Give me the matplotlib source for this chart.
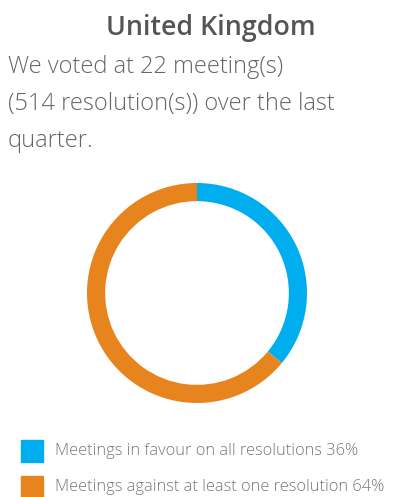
import matplotlib.pyplot as plt
from matplotlib.patches import Rectangle

title = "United Kingdom"
body_lines = ["We voted at 22 meeting(s)", "(514 resolution(s)) over the last", "quarter."]
labels = ["Meetings in favour on all resolutions", "Meetings against at least one resolution"]
values = [36, 64]
colors = ["#00aeef", "#e8841e"]

W, H = 413, 497
fig = plt.figure(figsize=(W / 100, H / 100), dpi=100)
plt.rcParams['font.family'] = ['Open Sans', 'DejaVu Sans']

fig.text(211 / W, 1 - 28 / H, title, ha="center", va="center",
         fontsize=19.3, fontweight="semibold", color="#555555")
for i, line in enumerate(body_lines):
    fig.text(8 / W, 1 - (73 + 37 * i) / H, line, ha="left", va="baseline",
             fontsize=17, fontweight="light", color="#666666")

# donut
ax = fig.add_axes([(197 - 110) / W, 1 - (293 + 110) / H, 220 / W, 220 / H])
ax.pie(values, colors=colors, startangle=90, counterclock=False,
       wedgeprops=dict(width=0.165, linewidth=0))
ax.set_xlim(-1, 1)
ax.set_ylim(-1, 1)
ax.set_aspect("equal")
ax.axis("off")

# legend
for i, (lab, val, col) in enumerate(zip(labels, values, colors)):
    top = 440 + 36 * i
    fig.patches.append(Rectangle((21 / W, 1 - (top + 22) / H), 22 / W, 22 / H,
                                 transform=fig.transFigure, color=col))
    fig.text(55 / W, 1 - (top + 11) / H, f"{lab} {val}%", ha="left", va="center",
             fontsize=11.8, fontweight="light", color="#777777")

fig.savefig("out.png", dpi=100)
